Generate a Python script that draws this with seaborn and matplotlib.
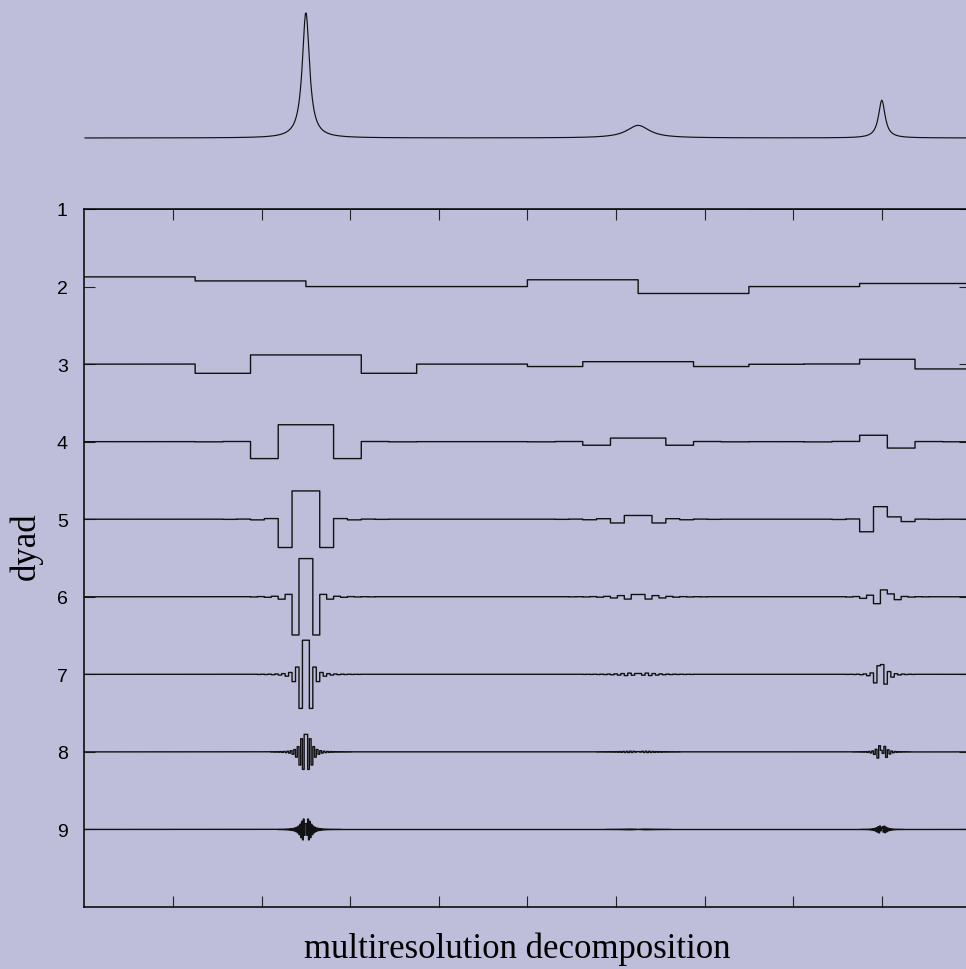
import numpy as np
import pandas as pd
import matplotlib
matplotlib.use("Agg")
import matplotlib.pyplot as plt
import seaborn as sns

# Signal: three Lorentzian lines sampled on [0, 1]
peak_centers = [0.25, 0.625, 0.9]
peak_heights = [1.0, 0.1, 0.3]
peak_halfwidths = [0.0049, 0.0156, 0.0045]
n_samples = 1024

# Dyad 2 block levels (eight blocks of width 1/8)
dyad2_levels = [0.060, 0.035, 0.0, 0.0, 0.042, -0.043, 0.0, 0.019]

dyads = [1, 2, 3, 4, 5, 6, 7, 8, 9]
y_tick_labels = ["1", "2", "3", "4", "5", "6", "7", "8", "9"]
x_tick_positions = [0.1, 0.2, 0.3, 0.4, 0.5, 0.6, 0.7, 0.8, 0.9]
row_scale = 2.08  # dyad units per signal unit

bg = "#bebeda"
ink = "#111111"

sns.set_theme(style="white", rc={
    "figure.facecolor": bg,
    "axes.facecolor": bg,
    "savefig.facecolor": bg,
})
plt.rcParams["font.family"] = ["Liberation Sans", "DejaVu Sans"]

t = (np.arange(n_samples) + 0.5) / n_samples
signal = np.zeros(n_samples)
for c, h, w in zip(peak_centers, peak_heights, peak_halfwidths):
    signal += h / (1.0 + ((t - c) / w) ** 2)


def block_mean(x, size):
    return np.repeat(x.reshape(-1, size).mean(axis=1), size)


# Haar multiresolution details: dyad d has half-blocks of 2**(9-d) samples
details = {}
for d in dyads:
    half = 2 ** (9 - d)
    details[d] = block_mean(signal, half) - block_mean(signal, 2 * half)
details[2] = np.repeat(np.array(dyad2_levels), n_samples // len(dyad2_levels))

edges = np.arange(n_samples + 1) / n_samples
frames = []
for d in dyads:
    v = np.append(details[d], details[d][-1])
    frames.append(pd.DataFrame({"x": edges, "y": d - row_scale * v, "dyad": d}))
rows = pd.concat(frames, ignore_index=True)

W, H = 966, 970
fig = plt.figure(figsize=(W / 100, H / 100), dpi=100)

left = 84.4 / W
width = 886 / W
ax = fig.add_axes([left, 1 - 908 / H, width, 698 / H])
ax_top = fig.add_axes([left, 1 - 200 / H, width, 200 / H])

# signal panel
sns.lineplot(x=t, y=signal, ax=ax_top, color=ink, lw=0.85, estimator=None, sort=False)
ax_top.set_xlim(0, 1)
ax_top.set_ylim(-0.484, 1.103)
ax_top.axis("off")

# decomposition panel
sns.lineplot(data=rows, x="x", y="y", units="dyad", estimator=None, sort=False,
             drawstyle="steps-post", color=ink, lw=1.0, legend=False, ax=ax)
ax.set_xlim(0, 1)
ax.set_ylim(10, 1)
ax.set_xticks(x_tick_positions)
ax.set_xticklabels([])
ax.set_yticks(dyads)
ax.set_yticklabels(y_tick_labels)
ax.set_xlabel("")
ax.set_ylabel("")
ax.tick_params(axis="both", direction="in", length=8, width=0.8, color="#222222",
               top=True, right=True, bottom=True, left=True,
               labelbottom=False, labeltop=False, labelright=False)
ax.tick_params(axis="y", labelsize=14, pad=12, labelcolor="black")
for s in ax.spines.values():
    s.set_visible(True)
    s.set_color("black")
    s.set_linewidth(1.1)

fig.text(517 / W, 1 - 958 / H, "multiresolution decomposition",
         family=["Liberation Serif", "DejaVu Serif"], fontsize=25,
         ha="center", va="baseline", color="black")
fig.text(26 / W, 1 - 546 / H, "dyad", family=["Liberation Serif", "DejaVu Serif"],
         fontsize=25, rotation=90, ha="center", va="center", color="black")

fig.savefig("out.png", dpi=100)
